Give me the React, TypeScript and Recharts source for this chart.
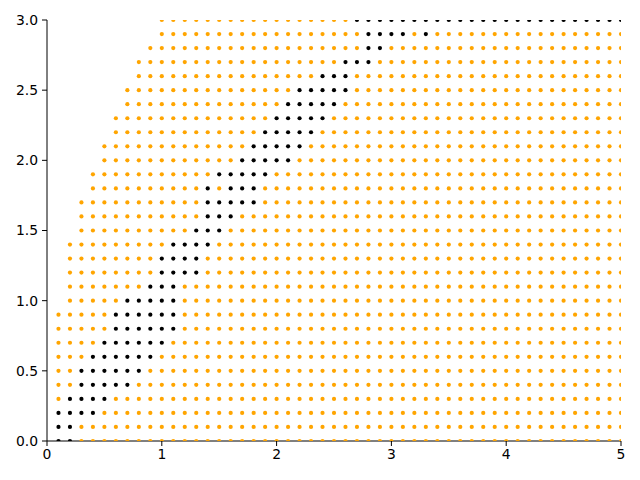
import { ScatterChart, Scatter, XAxis, YAxis } from "recharts"

// grid columns (x) and rows (y) of the sampled points
const xs = [
  0.1, 0.2, 0.3, 0.4, 0.5, 0.6, 0.7, 0.8, 0.9, 1.0,
  1.1, 1.2, 1.3, 1.4, 1.5, 1.6, 1.7, 1.8, 1.9, 2.0,
  2.1, 2.2, 2.3, 2.4, 2.5, 2.6, 2.7, 2.8, 2.9, 3.0,
  3.1, 3.2, 3.3, 3.4, 3.5, 3.6, 3.7, 3.8, 3.9, 4.0,
  4.1, 4.2, 4.3, 4.4, 4.5, 4.6, 4.7, 4.8, 4.9, 5.0,
]
const ys = [
  0.0, 0.1, 0.2, 0.3, 0.4, 0.5, 0.6, 0.7, 0.8, 0.9,
  1.0, 1.1, 1.2, 1.3, 1.4, 1.5, 1.6, 1.7, 1.8, 1.9,
  2.0, 2.1, 2.2, 2.3, 2.4, 2.5, 2.6, 2.7, 2.8, 2.9, 3.0,
]

// first x of each row (rows follow ys)
const rowStart = [
  0.1, 0.1, 0.1, 0.1, 0.1, 0.1, 0.1, 0.1, 0.1, 0.1,
  0.2, 0.2, 0.2, 0.2, 0.2, 0.3, 0.3, 0.3, 0.4, 0.4,
  0.5, 0.5, 0.6, 0.6, 0.7, 0.7, 0.8, 0.8, 0.9, 1.0, 1.0,
]

// black runs per row, [from, to] inclusive (rows follow ys)
const blackRuns: number[][][] = [
  [[0.1, 0.2]],
  [[0.1, 0.2]],
  [[0.1, 0.4]],
  [[0.2, 0.5]],
  [[0.3, 0.7]],
  [[0.3, 0.8]],
  [[0.4, 0.9]],
  [[0.5, 1.0]],
  [[0.6, 1.1]],
  [[0.6, 1.1]],
  [[0.7, 1.1]],
  [[0.9, 1.1]],
  [[1.0, 1.3]],
  [[1.0, 1.3]],
  [[1.1, 1.4]],
  [[1.3, 1.5]],
  [[1.4, 1.6]],
  [[1.4, 1.8]],
  [[1.4, 1.4], [1.6, 1.8]],
  [[1.5, 1.9]],
  [[1.7, 2.1]],
  [[1.8, 2.2]],
  [[1.9, 2.3]],
  [[2.0, 2.4]],
  [[2.1, 2.5]],
  [[2.2, 2.6]],
  [[2.4, 2.6]],
  [[2.6, 2.8]],
  [[2.8, 2.9]],
  [[2.8, 3.1], [3.3, 3.3]],
  [[2.7, 5.0]],
]

const xTicks = [0, 1, 2, 3, 4, 5]
const yTicks = [0, 0.5, 1.0, 1.5, 2.0, 2.5, 3.0]

const EPS = 1e-6
const orangePts: { x: number; y: number }[] = []
const blackPts: { x: number; y: number }[] = []
ys.forEach((y, i) => {
  xs.forEach((x) => {
    if (x < rowStart[i] - EPS) return
    const isBlack = blackRuns[i].some(([a, b]) => x >= a - EPS && x <= b + EPS)
    if (isBlack) blackPts.push({ x, y })
    else orangePts.push({ x, y })
  })
})

const font = { fontFamily: "DejaVu Sans", fontSize: 13.9, fill: "#000" }

const Dot = (color: string) => (props: any) => (
  <circle cx={props.cx} cy={props.cy} r={2.1} fill={color} />
)

export default function App() {
  return (
    <div style={{ position: "absolute", left: 0, top: 0, background: "#fff" }}>
      <ScatterChart width={640} height={480} margin={{ top: 20, right: 19, bottom: 0, left: 0 }}>
        <XAxis
          type="number"
          dataKey="x"
          domain={[0, 5]}
          ticks={xTicks}
          allowDataOverflow
          height={39}
          tickSize={5}
          tickMargin={3}
          tick={font}
          stroke="#000"
          tickLine={{ stroke: "#000" }}
          axisLine={{ stroke: "#000" }}
        />
        <XAxis
          xAxisId="top"
          orientation="top"
          type="number"
          domain={[0, 5]}
          height={0}
          tick={false}
          tickLine={false}
          axisLine={{ stroke: "#000" }}
        />
        <YAxis
          type="number"
          dataKey="y"
          domain={[0, 3]}
          ticks={yTicks}
          allowDataOverflow
          width={47}
          tickSize={5}
          tickMargin={4}
          tick={font}
          tickFormatter={(v: number) => v.toFixed(1)}
          stroke="#000"
          tickLine={{ stroke: "#000" }}
          axisLine={{ stroke: "#000" }}
        />
        <YAxis
          yAxisId="right"
          orientation="right"
          type="number"
          domain={[0, 3]}
          width={0}
          tick={false}
          tickLine={false}
          axisLine={{ stroke: "#000" }}
        />
        <Scatter data={orangePts} fill="orange" shape={Dot("orange")} isAnimationActive={false} />
        <Scatter data={blackPts} fill="black" shape={Dot("black")} isAnimationActive={false} />
      </ScatterChart>
    </div>
  )
}
